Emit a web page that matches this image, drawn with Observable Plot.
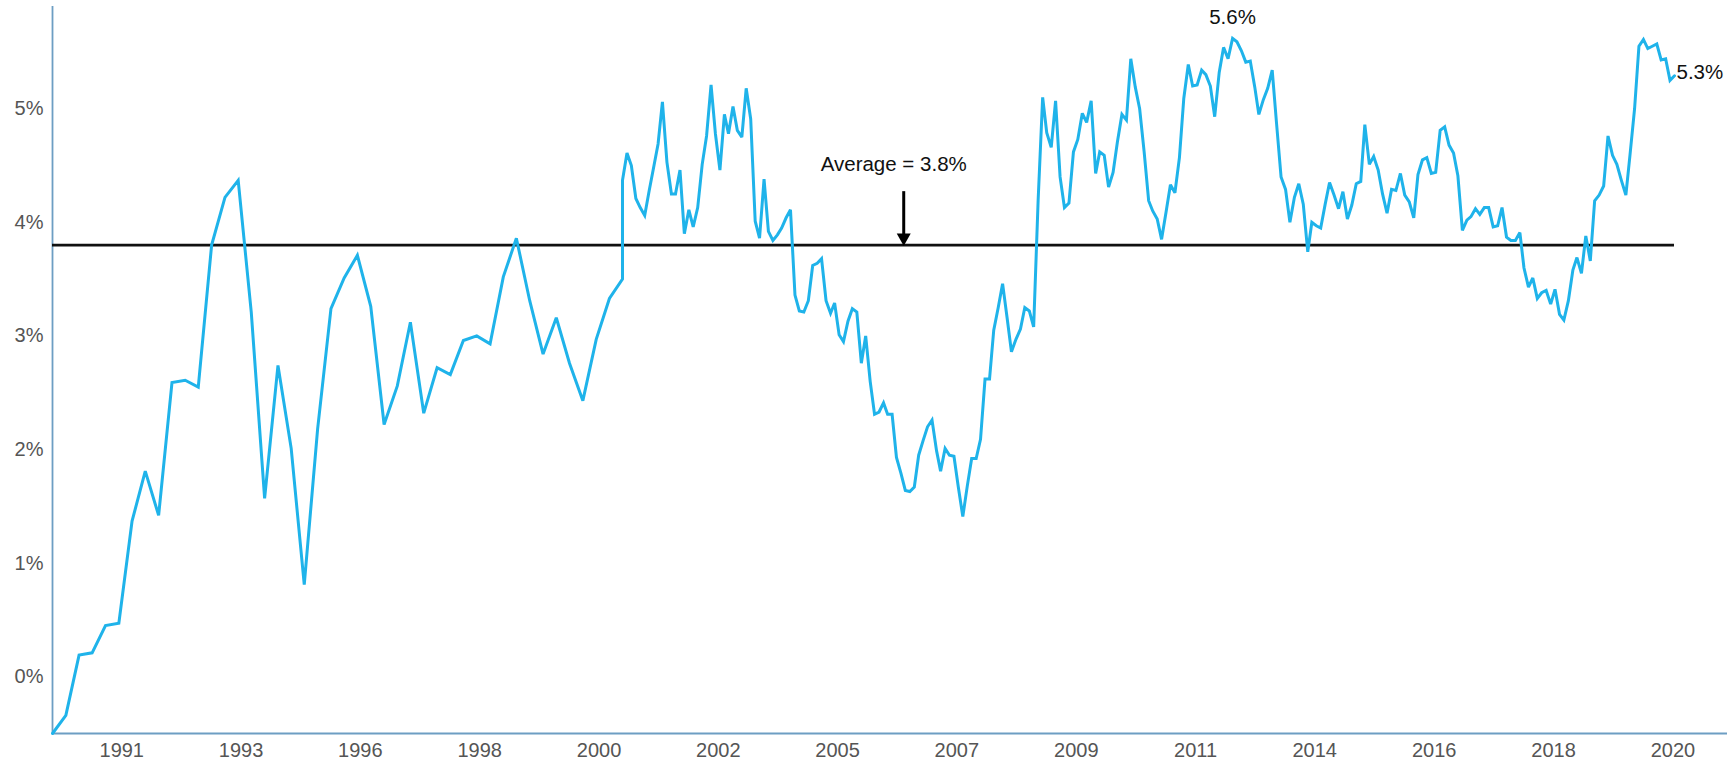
<!DOCTYPE html>
<html>
<head>
<meta charset="utf-8">
<script src="https://cdn.jsdelivr.net/npm/d3@7"></script>
<script src="https://cdn.jsdelivr.net/npm/@observablehq/plot@0.6"></script>
<style>
  html, body { margin: 0; padding: 0; background: #fff; }
  #chart { width: 1728px; height: 761px; }
</style>
</head>
<body>
<div id="chart"></div>
<script>
// Quarterly readings, starting June 1990
const quarterlyStart = "1990-06-01";
const quarterlyValues = [
  -0.50, -0.34, 0.19, 0.21, 0.45, 0.47, 1.37, 1.81, 1.42, 2.59,
  2.61, 2.55, 3.80, 4.22, 4.37, 3.21, 1.57, 2.74, 2.01, 0.81,
  2.18, 3.24, 3.51, 3.71, 3.26, 2.22, 2.56, 3.12, 2.32, 2.72,
  2.66, 2.96, 3.00, 2.93, 3.52, 3.86, 3.31, 2.84, 3.16, 2.76,
  2.43, 2.97, 3.33, 3.50
];
// Monthly readings, starting March 2001
const monthlyStart = "2001-03-01";
const monthlyValues = [
  4.37, 4.61, 4.50, 4.21, 4.13, 4.06, 4.28, 4.48, 4.69, 5.06,
  4.53, 4.25, 4.25, 4.46, 3.90, 4.11, 3.96, 4.13, 4.51, 4.76,
  5.21, 4.78, 4.46, 4.95, 4.78, 5.02, 4.81, 4.75, 5.18, 4.91,
  4.01, 3.86, 4.38, 3.92, 3.84, 3.89, 3.95, 4.04, 4.11, 3.36,
  3.22, 3.21, 3.31, 3.62, 3.64, 3.68, 3.31, 3.20, 3.29, 3.01,
  2.95, 3.13, 3.24, 3.21, 2.76, 3.00, 2.60, 2.31, 2.33, 2.41,
  2.31, 2.31, 1.93, 1.79, 1.64, 1.63, 1.67, 1.95, 2.08, 2.20,
  2.26, 1.99, 1.81, 2.01, 1.95, 1.94, 1.67, 1.41, 1.68, 1.92,
  1.92, 2.09, 2.62, 2.62, 3.05, 3.25, 3.46, 3.16, 2.86, 2.97,
  3.06, 3.25, 3.22, 3.08, 4.20, 5.10, 4.79, 4.66, 5.07, 4.40,
  4.13, 4.17, 4.62, 4.73, 4.96, 4.88, 5.07, 4.43, 4.62, 4.59,
  4.31, 4.44, 4.71, 4.95, 4.90, 5.44, 5.19, 5.00, 4.62, 4.19,
  4.10, 4.03, 3.85, 4.09, 4.33, 4.26, 4.57, 5.09, 5.39, 5.20,
  5.21, 5.34, 5.30, 5.20, 4.93, 5.32, 5.54, 5.44, 5.62, 5.59,
  5.51, 5.41, 5.42, 5.19, 4.95, 5.08, 5.18, 5.34, 4.87, 4.40,
  4.29, 4.00, 4.22, 4.34, 4.16, 3.74, 4.00, 3.97, 3.95, 4.16,
  4.35, 4.24, 4.12, 4.27, 4.03, 4.15, 4.34, 4.36, 4.86, 4.51,
  4.58, 4.46, 4.25, 4.08, 4.29, 4.28, 4.43, 4.24, 4.18, 4.04,
  4.42, 4.55, 4.57, 4.43, 4.44, 4.81, 4.84, 4.68, 4.61, 4.41,
  3.93, 4.02, 4.05, 4.12, 4.07, 4.13, 4.13, 3.96, 3.97, 4.13,
  3.87, 3.84, 3.84, 3.91, 3.60, 3.43, 3.51, 3.33, 3.38, 3.40,
  3.28, 3.41, 3.19, 3.14, 3.31, 3.58, 3.69, 3.55, 3.88, 3.66,
  4.19, 4.24, 4.32, 4.76, 4.59, 4.51, 4.37, 4.24, 4.60, 5.00,
  5.55, 5.61, 5.53, 5.55, 5.57, 5.43, 5.44, 5.25, 5.29
];
const averageValue = 3.8;
const averageLabel = "Average = 3.8%";
const arrowDate = "2006-06-20";
const xDomain = ["1990-06-01", "2022-01-01"];
const yDomain = [-0.5, 5.9];
const yTicks = [0, 1, 2, 3, 4, 5];
const yTickLabels = ["0%", "1%", "2%", "3%", "4%", "5%"];
const xTickStart = "1991-09-21";
const xTickStepMonths = 27;
const xTickLabels = ["1991", "1993", "1996", "1998", "2000", "2002", "2005",
                     "2007", "2009", "2011", "2014", "2016", "2018", "2020"];

// Build table
const parse = s => new Date(s + "T00:00:00Z");
const data = [];
quarterlyValues.forEach((v, i) => data.push({date: d3.utcMonth.offset(parse(quarterlyStart), 3 * i), value: v}));
monthlyValues.forEach((v, i) => data.push({date: d3.utcMonth.offset(parse(monthlyStart), i), value: v}));
const first = data[0], last = data[data.length - 1];
const peak = d3.greatest(data, d => d.value);

const xTickDates = xTickLabels.map((_, k) => d3.utcMonth.offset(parse(xTickStart), xTickStepMonths * k));
const xLabelOf = d => { const i = xTickDates.findIndex(t => +t === +d); return i >= 0 ? xTickLabels[i] : ""; };
const yLabelOf = d => { const i = yTicks.indexOf(d); return i >= 0 ? yTickLabels[i] : ""; };

const axisColor = "#6d9ec3";
const lineColor = "#1fb3ea";
const font = "'Liberation Sans', Arial, Helvetica, sans-serif";

const downTriangle = {
  draw(ctx) {
    ctx.moveTo(-7, -12.5);
    ctx.lineTo(7, -12.5);
    ctx.lineTo(0, 0);
    ctx.closePath();
  }
};

const chart = Plot.plot({
  width: 1728,
  height: 761,
  marginLeft: 52,
  marginRight: 1,
  marginTop: 6,
  marginBottom: 28,
  style: {fontFamily: font, fontSize: "20px", color: "#555555", background: "#fff"},
  x: {type: "utc", domain: xDomain.map(parse), ticks: xTickDates, tickFormat: xLabelOf,
      tickSize: 0, tickPadding: 9, label: null},
  y: {domain: yDomain, ticks: yTicks, tickFormat: yLabelOf, tickSize: 0, tickPadding: 9, label: null},
  marks: [
    Plot.ruleX([parse(xDomain[0])], {stroke: axisColor, strokeWidth: 1.8}),
    Plot.ruleY([yDomain[0]], {stroke: axisColor, strokeWidth: 1.8}),
    Plot.ruleY([{y: averageValue, x1: first.date, x2: last.date}],
      {y: "y", x1: "x1", x2: "x2", stroke: "#111", strokeWidth: 2.8}),
    Plot.line(data, {x: "date", y: "value", stroke: lineColor, strokeWidth: 3,
      strokeLinejoin: "miter", strokeMiterlimit: 3}),
    Plot.ruleX([{x: parse(arrowDate), y1: 4.27, y2: 3.88}],
      {x: "x", y1: "y1", y2: "y2", stroke: "#000", strokeWidth: 3}),
    Plot.dot([{x: parse(arrowDate), y: averageValue}],
      {x: "x", y: "y", symbol: downTriangle, r: 5, fill: "#000", stroke: "none", dy: 1}),
    Plot.text([{x: parse(arrowDate), y: 4.27}],
      {x: "x", y: "y", text: () => averageLabel, dx: -10, dy: -27, fill: "#111",
       fontSize: 20.5, textAnchor: "middle"}),
    Plot.text([peak], {x: "date", y: "value", text: d => d.value.toFixed(1) + "%",
      dy: -21, fill: "#111", fontSize: 20.5, textAnchor: "middle"}),
    Plot.text([last], {x: "date", y: "value", text: d => d.value.toFixed(1) + "%",
      dx: 2, dy: -3, fill: "#111", fontSize: 20.5, textAnchor: "start"})
  ]
});
document.getElementById("chart").appendChild(chart);
</script>
</body>
</html>
